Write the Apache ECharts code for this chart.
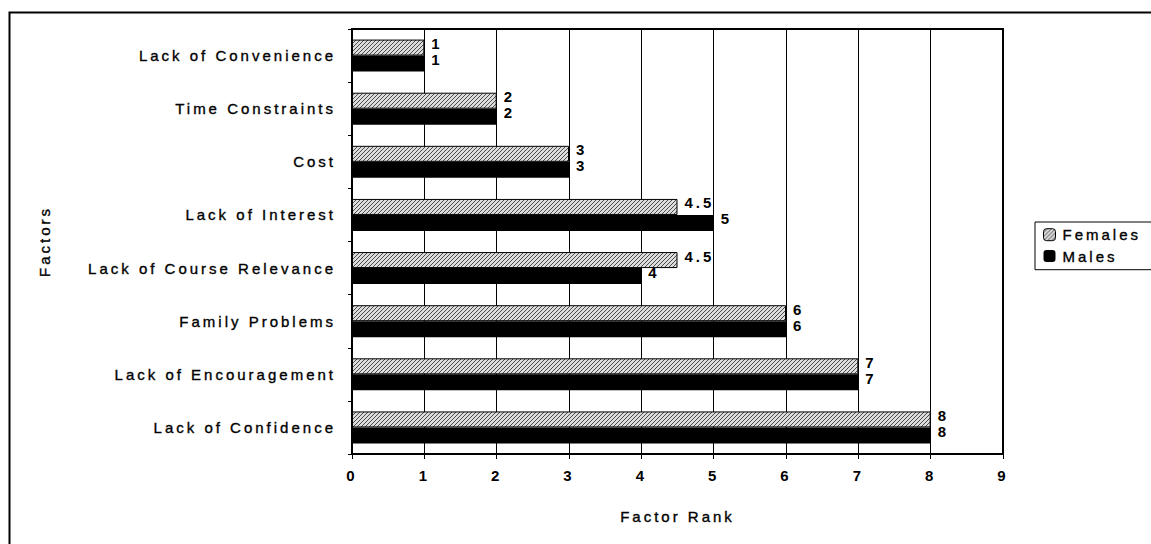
<!DOCTYPE html>
<html>
<head>
<meta charset="utf-8">
<script src="https://cdn.jsdelivr.net/npm/echarts@6/dist/echarts.min.js"></script>
<style>
  html, body { margin: 0; padding: 0; background: #fff; }
  #chart { width: 1151px; height: 544px; }
  #chart svg text { letter-spacing: 3px; }
</style>
</head>
<body>
<div id="chart"></div>
<script>
// Factor ranks by gender
const categories = [
  'Lack of Convenience',
  'Time Constraints',
  'Cost',
  'Lack of Interest',
  'Lack of Course Relevance',
  'Family Problems',
  'Lack of Encouragement',
  'Lack of Confidence'
];
const females = [1, 2, 3, 4.5, 4.5, 6, 7, 8];
const males = [1, 2, 3, 5, 4, 6, 7, 8];
const xTicks = [0, 1, 2, 3, 4, 5, 6, 7, 8, 9];

// Fine grey diagonal hatch used for the Females bars
function hatchPattern() {
  const c = document.createElement('canvas');
  c.width = 4; c.height = 4;
  const g = c.getContext('2d');
  g.fillStyle = '#dcdcdc';
  g.fillRect(0, 0, 4, 4);
  g.strokeStyle = '#4a4a4a';
  g.lineWidth = 1;
  g.beginPath();
  g.moveTo(-1, 1); g.lineTo(1, -1);
  g.moveTo(0, 4); g.lineTo(4, 0);
  g.moveTo(3, 5); g.lineTo(5, 3);
  g.stroke();
  return { image: c, repeat: 'repeat' };
}
const hatch = hatchPattern();

const font = "'Liberation Sans', Arial, sans-serif";
// thin outline on glyphs gives the heavier printed look of the labels
const ink = { textBorderColor: '#000', textBorderWidth: 0.35 };
const chart = echarts.init(document.getElementById('chart'), null, { renderer: 'svg' });

const valueLabel = {
  show: true,
  position: 'right',
  distance: 7,
  offset: [0, -4],
  color: '#000',
  fontFamily: font,
  fontSize: 15,
  fontWeight: 'bold'
};

chart.setOption({
  animation: false,
  backgroundColor: '#fff',
  textStyle: { fontFamily: font, color: '#000' },
  graphic: [{
    type: 'rect',
    shape: { x: 9.5, y: 12.5, width: 1200, height: 600 },
    style: { fill: 'none', stroke: '#000', lineWidth: 2 },
    silent: true
  }],
  grid: {
    left: 352, right: 148, top: 29, bottom: 90,
    show: true, borderColor: '#000', borderWidth: 2, backgroundColor: 'transparent'
  },
  legend: {
    orient: 'vertical',
    left: 1035, top: 222,
    padding: [5, 40, 6, 8],
    itemGap: 6,
    itemWidth: 12, itemHeight: 12,
    borderColor: '#000', borderWidth: 1,
    textStyle: Object.assign({ fontFamily: font, fontSize: 15, color: '#000', padding: [0, 0, 0, 2] }, ink),
    data: [
      { name: 'Females', itemStyle: { color: hatch, borderColor: '#000', borderWidth: 1 } },
      { name: 'Males', itemStyle: { color: '#000' } }
    ]
  },
  xAxis: {
    type: 'value',
    min: xTicks[0], max: xTicks[xTicks.length - 1], interval: 1,
    name: 'Factor Rank',
    nameLocation: 'middle',
    nameGap: 55,
    nameTextStyle: Object.assign({ fontFamily: font, fontSize: 15, color: '#000' }, ink),
    axisLine: { show: true, lineStyle: { color: '#000', width: 1 } },
    axisTick: { show: true, length: 5, lineStyle: { color: '#000' } },
    axisLabel: { margin: 14, fontFamily: font, fontSize: 15, fontWeight: 'bold', color: '#000' },
    splitLine: { show: true, lineStyle: { color: '#000', width: 1 } }
  },
  yAxis: {
    type: 'category',
    data: categories,
    inverse: true,
    name: 'Factors',
    nameLocation: 'middle',
    nameRotate: 90,
    nameGap: 300,
    nameTextStyle: Object.assign({ fontFamily: font, fontSize: 15, color: '#000' }, ink),
    axisLine: { show: true, lineStyle: { color: '#000', width: 1 } },
    axisTick: { show: true, length: 4, lineStyle: { color: '#000' } },
    axisLabel: Object.assign({ margin: 16, fontFamily: font, fontSize: 15, color: '#000' }, ink),
    splitLine: { show: false }
  },
  series: [
    {
      name: 'Females',
      type: 'bar',
      data: females,
      barWidth: 16,
      barGap: '0%',
      itemStyle: { color: hatch, borderColor: '#000', borderWidth: 1 },
      label: valueLabel
    },
    {
      name: 'Males',
      type: 'bar',
      data: males,
      barWidth: 16,
      barGap: '0%',
      itemStyle: { color: '#000' },
      label: valueLabel
    }
  ]
});
</script>
</body>
</html>
